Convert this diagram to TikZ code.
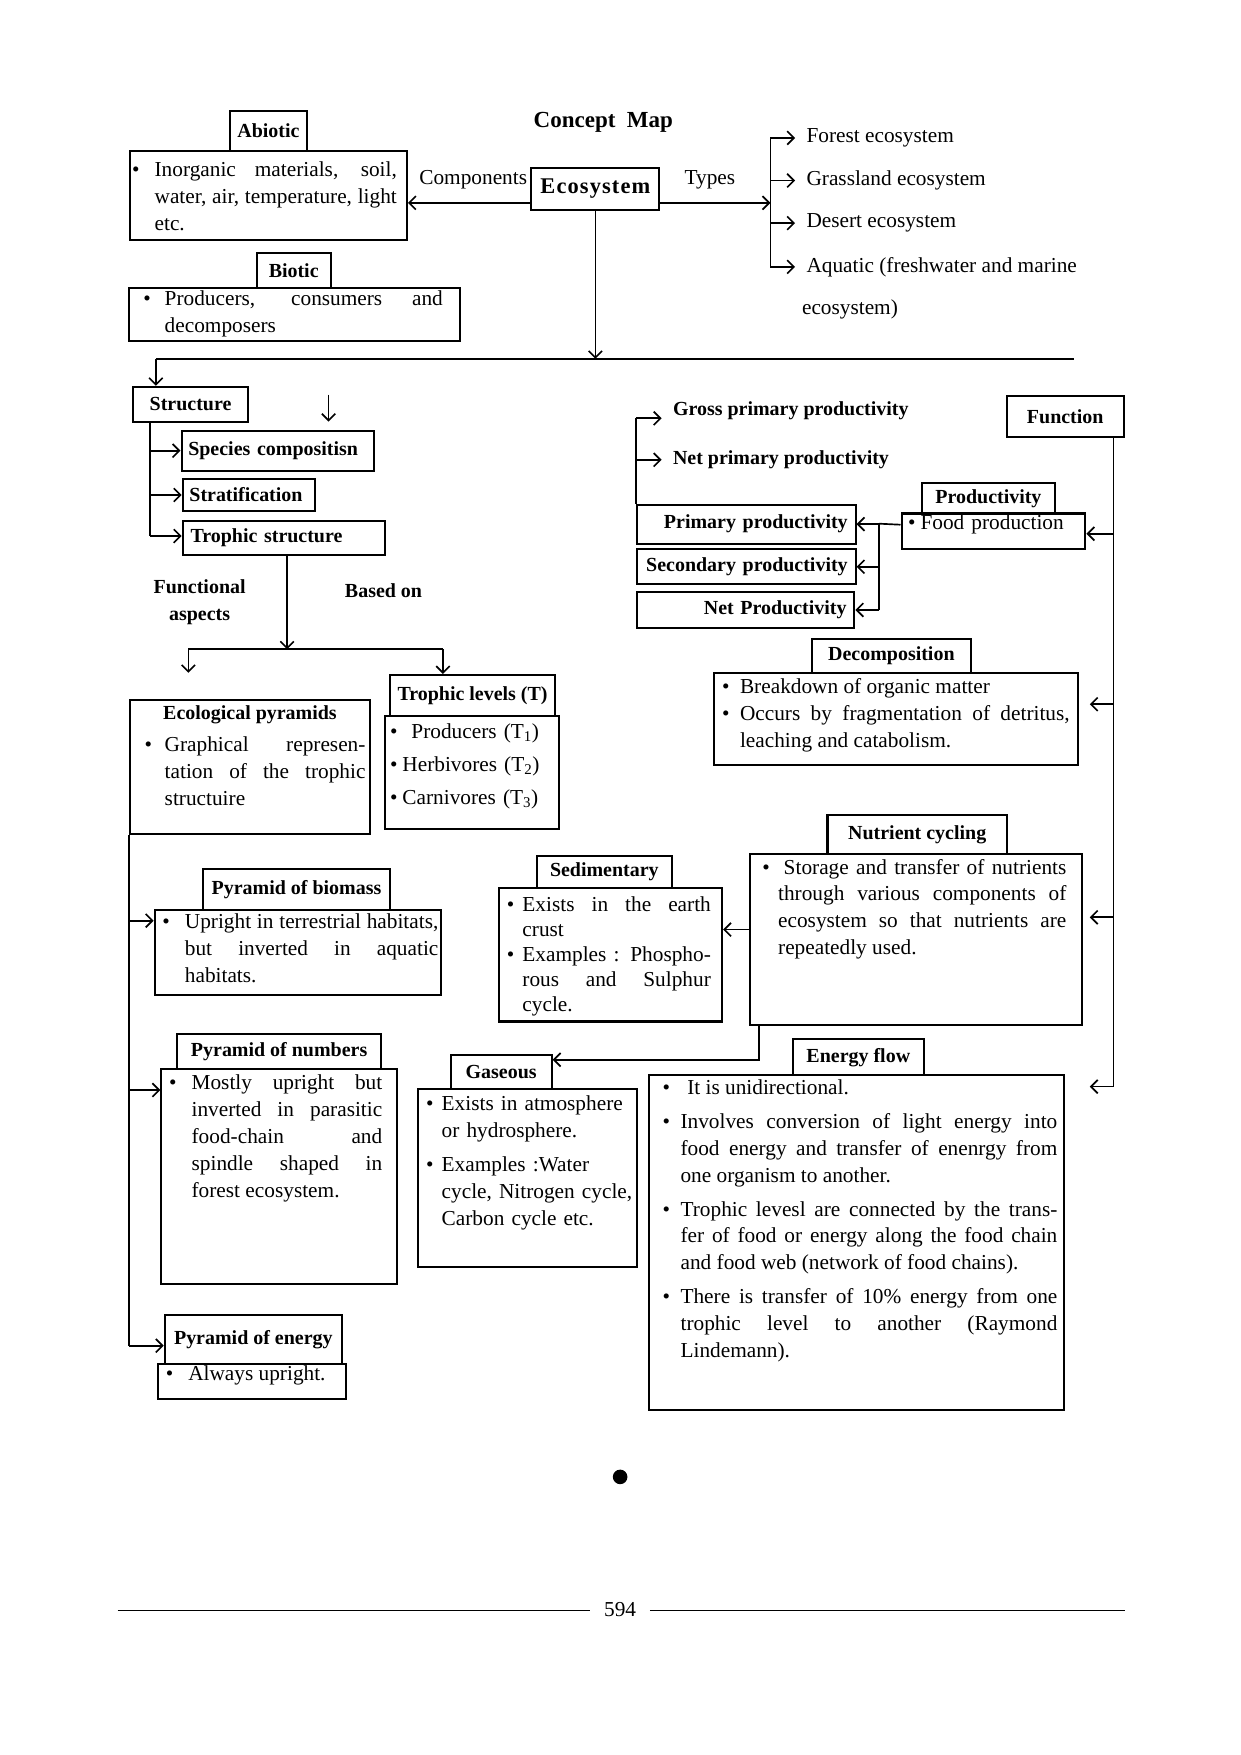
\documentclass[tikz,border=0pt]{standalone}
\usepackage{fontspec}
\setmainfont{Liberation Serif}
\newfontfamily\spacedfont[LetterSpace=5]{Liberation Serif}
\usepackage{tikz}
\usetikzlibrary{arrows.meta, positioning}
\tolerance=10000
\hbadness=10000
\newcommand{\bodyfont}{\fontsize{19}{24}\selectfont}
\newcommand{\headfont}{\fontsize{17.8}{22}\selectfont\bfseries}
\newcommand{\bitem}[2]{\noindent\hangindent=#1pt\hangafter=1\makebox[#1pt][l]{\textbullet}#2\par}
\tikzstyle{header} = [rectangle, draw=black, line width=1.8pt, font=\headfont, inner sep=0pt, anchor=north west]
\tikzstyle{mainbox} = [rectangle, draw=black, line width=1.8pt, font=\fontsize{20}{24}\spacedfont\bfseries, inner sep=0pt, anchor=north west]
\tikzstyle{bodybox} = [rectangle, draw=black, line width=1.8pt, font=\bodyfont, anchor=north west, align=justify, inner xsep=7pt, inner ysep=4pt, text height=13pt]
\tikzstyle{txt} = [font=\bodyfont, inner sep=0pt]
\tikzstyle{boldtxt} = [font=\headfont, inner sep=0pt, align=center]
\tikzstyle{link} = [line width=1.5pt]
\tikzstyle{arrow} = [line width=1.5pt, ->, >={Straight Barb[length=6pt,width=12pt]}]

\begin{document}
\begin{tikzpicture}[x=1pt, y=-1pt]

	\path [fill=white] (0,0) rectangle (1106,1565);
	\useasboundingbox (0,0) rectangle (1106,1565);

	\node (title) [font=\fontsize{20.5}{24}\selectfont\bfseries] at (538,109) {Concept\ \ Map};

	\node (abiotic_hd) [header, minimum width=69pt, minimum height=36pt] at (204,98) {Abiotic};
	\node (abiotic) [bodybox, inner xsep=2pt, inner ysep=9.5pt, text width=243pt, text depth=47pt] at (115,134) {\rightskip=7pt\bitem{20}{Inorganic materials, soil,\linebreak water, air, temperature, light\linebreak etc.}};

	\node (eco) [mainbox, minimum width=114pt, minimum height=37pt] at (473,149) {Ecosystem};
	\node (comp) [txt] at (422,160) {Components};
	\node (types) [txt] at (633,160) {Types};

	\node (forest) [txt, anchor=west, inner xsep=10pt] at (709,123) {Forest ecosystem};
	\node (grass) [txt, anchor=west, inner xsep=10pt] at (709,161) {Grassland ecosystem};
	\node (desert) [txt, anchor=west, inner xsep=10pt] at (709,199) {Desert ecosystem};
	\node (aquatic) [txt, anchor=north west, inner xsep=10pt, align=left] at (709,229) {Aquatic (freshwater and marine\\[14pt]\hspace*{-4pt}ecosystem)};

	\node (biotic_hd) [header, minimum width=66pt, minimum height=31pt] at (228,225) {Biotic};
	\node (biotic) [bodybox, inner xsep=13pt, inner ysep=2.5pt, text width=269pt, text depth=29pt] at (114,256) {\rightskip=2pt\bitem{19}{Producers, consumers and\linebreak decomposers}};

	\node (structure) [header, minimum width=102pt, minimum height=31pt] at (118,344) {Structure};
	\node (species) [header, text width=160pt, inner xsep=6pt, align=left, minimum height=36pt] at (161,383) {Species compositisn};
	\node (strat) [header, text width=106pt, inner xsep=6pt, align=left, minimum height=29pt] at (162,426) {Stratification};
	\node (trophic_str) [header, text width=166pt, inner xsep=7pt, align=left, minimum height=30pt] at (162,464) {Trophic structure};

	\node (func_lbl) [boldtxt] at (178,537) {Functional\\[2pt]aspects};
	\node (based_lbl) [boldtxt] at (342,527) {Based on};

	\node (eco_pyr) [bodybox, inner xsep=4pt, inner ysep=4.5pt, text width=206pt, text depth=98pt] at (115,623) {{\centering\headfont Ecological pyramids\par}\leftskip=9pt\setlength{\parskip}{5pt}\bitem{18}{Graphical represen-\linebreak tation of the trophic\linebreak structuire}};

	\node (troph_lv_hd) [header, minimum width=147pt, minimum height=37pt] at (347,601) {Trophic levels (T)};
	\node (troph_lv) [bodybox, align=left, inner xsep=5pt, inner ysep=6.5pt, text width=146pt, text depth=74pt] at (342,638) {\setlength{\parskip}{5.5pt}\bitem{19}{Producers (T\textsubscript{1})}\bitem{11}{Herbivores (T\textsubscript{2})}\bitem{11}{Carnivores (T\textsubscript{3})}};

	\node (biomass_hd) [header, minimum width=167pt, minimum height=37pt] at (180,774) {Pyramid of biomass};
	\node (biomass) [bodybox, inner xsep=2pt, inner ysep=3.5pt, text width=251pt, text depth=55pt] at (137,811) {\leftskip=5pt\bitem{20}{Upright in terrestrial habitats,\linebreak but inverted in aquatic\linebreak habitats.}};

	\node (numbers_hd) [header, minimum width=182pt, minimum height=31pt] at (157,921) {Pyramid of numbers};
	\node (numbers) [bodybox, inner xsep=7pt, inner ysep=5.5pt, text width=196pt, text depth=168pt] at (143,952) {\rightskip=6pt\bitem{20}{Mostly upright but\linebreak inverted in parasitic\linebreak food-chain and\linebreak spindle shaped in\linebreak forest ecosystem.}};

	\node (energy_hd) [header, minimum width=158pt, minimum height=43pt] at (146,1172) {Pyramid of energy};
	\node (energy) [bodybox, inner xsep=7pt, inner ysep=2.5pt, text width=154pt, text depth=14pt] at (140,1215) {\bitem{20}{Always upright.}};

	\node (gpp) [boldtxt, anchor=west, inner xsep=10pt] at (590,366) {Gross primary productivity};
	\node (npp) [boldtxt, anchor=west, inner xsep=10pt] at (590,410) {Net primary productivity};
	\node (function) [header, minimum width=104pt, minimum height=37pt] at (897,352) {Function};

	\node (primary) [header, text width=181pt, inner xsep=7pt, align=right, minimum height=35pt] at (567,449) {Primary productivity};
	\node (secondary) [header, text width=181pt, inner xsep=7pt, align=right, minimum height=31pt] at (567,489) {Secondary productivity};
	\node (net) [header, text width=180pt, inner xsep=7pt, align=right, minimum height=32pt] at (567,527) {Net Productivity};

	\node (prod_hd) [header, minimum width=119pt, minimum height=27pt] at (821,430) {Productivity};
	\node (prod) [bodybox, align=left, inner xsep=6pt, inner ysep=1.5pt, text width=152pt, text depth=16pt] at (803,457) {\bitem{11}{Food production}};

	\node (decomp_hd) [header, minimum width=142pt, minimum height=30pt] at (723,569) {Decomposition};
	\node (decomp) [bodybox, inner xsep=7pt, inner ysep=5.5pt, text width=310pt, text depth=58pt] at (636,599) {\bitem{16}{Breakdown of organic matter}\bitem{16}{Occurs by fragmentation of detritus,\linebreak leaching and catabolism.}};

	\node (nutrient_hd) [header, minimum width=160pt, minimum height=35pt] at (737,726) {Nutrient cycling};
	\node (nutrient) [bodybox, inner xsep=11pt, inner ysep=4.5pt, text width=274pt, text depth=130pt] at (668,761) {\rightskip=3pt\bitem{14}{\hspace{5pt}Storage and transfer of nutrients\linebreak through various components of\linebreak ecosystem so that nutrients are\linebreak repeatedly used.}};

	\node (sedi_hd) [header, minimum width=120pt, minimum height=29pt] at (478,762) {Sedimentary};
	\node (sedi) [bodybox, inner xsep=7pt, inner ysep=7.5pt, text width=185pt, text depth=91pt] at (444,791) {\fontsize{19}{22.3}\selectfont\rightskip=3pt\bitem{14}{Exists in the earth\linebreak crust}\bitem{14}{Examples : Phospho-\linebreak rous and Sulphur\linebreak cycle.}};

	\node (gas_hd) [header, minimum width=90pt, minimum height=30pt] at (401,940) {Gaseous};
	\node (gas) [bodybox, align=left, inner xsep=4pt, inner ysep=6.5pt, text width=187pt, text depth=133pt] at (372,970) {\hyphenpenalty=10000\leftskip=3pt\setlength{\parskip}{6pt}\bitem{14}{Exists in atmosphere\newline or hydrosphere.}\bitem{14}{Examples :Water\newline cycle, Nitrogen cycle,\newline Carbon cycle etc.}};

	\node (flow_hd) [header, minimum width=117pt, minimum height=32pt] at (706,926) {Energy flow};
	\node (flow) [bodybox, inner xsep=6pt, inner ysep=4.5pt, text width=358pt, text depth=276pt] at (578,958) {\leftskip=6pt\setlength{\parskip}{6pt}\bitem{16}{\hspace{6pt}It is unidirectional.}\bitem{16}{Involves conversion of light energy into\linebreak food energy and transfer of enenrgy from\linebreak one organism to another.}\bitem{16}{Trophic levesl are connected by the trans-\linebreak fer of food or energy along the food chain\linebreak and food web (network of food chains).}\bitem{16}{There is transfer of 10\% energy from one\linebreak trophic level to another (Raymond\linebreak Lindemann).}};

	\node (dot) [circle, fill=black, inner sep=0pt, minimum size=13pt] at (553,1317) {};
	\node (page_no) [txt, inner xsep=12pt] at (553,1435) {594};

	\coordinate (type_top) at (687,123);
	\coordinate (type_bot) at (687,238);
	\coordinate (bus_left) at (139,320);
	\coordinate (bus_right) at (958,320);
	\coordinate (struct_bot) at (134,478);
	\coordinate (stray_top) at (293,352);
	\coordinate (stray_end) at (293,376);
	\coordinate (fa_bus) at (256,579);
	\coordinate (fa_left) at (168,579);
	\coordinate (fa_right) at (395,579);
	\coordinate (fa_left_end) at (168,600);
	\coordinate (pyr_biomass) at (115,821);
	\coordinate (pyr_numbers) at (115,972);
	\coordinate (pyr_bot) at (115,1200);
	\coordinate (gross_top) at (567,373);
	\coordinate (prod_bus) at (784,467);
	\coordinate (fn_prod) at (993,476);
	\coordinate (fn_decomp) at (993,628);
	\coordinate (fn_nutr) at (993,818);
	\coordinate (fn_bot) at (993,969);
	\coordinate (gas_corner) at (677,945);
	\coordinate (rule_left) at (105,1436);
	\coordinate (rule_right) at (1003,1436);

	\draw [arrow] ([yshift=-12.5pt]eco.west) -- ([yshift=-12.5pt]eco.west -| abiotic.east);
	\draw [arrow] ([yshift=-12.5pt]eco.east) -- ([yshift=-12.5pt]eco.east -| type_top);
	\draw [link] (type_top) -- (type_bot);
	\draw [arrow] (type_top) -- (forest.west);
	\draw [arrow] (type_top |- grass.west) -- (grass.west);
	\draw [arrow] (type_top |- desert.west) -- (desert.west);
	\draw [arrow] (type_bot) -- (type_bot -| aquatic.west);

	\draw [arrow] (eco.south) -- (eco.south |- bus_left);
	\draw [link] (bus_left) -- (bus_right);
	\draw [arrow] (bus_left) -- (bus_left |- structure.north);
	\draw [arrow] (stray_top) -- (stray_end);
	\draw [link] (structure.south -| struct_bot) -- (struct_bot);
	\draw [arrow] (struct_bot |- species.west) -- (species.west);
	\draw [arrow] (struct_bot |- strat.west) -- (strat.west);
	\draw [arrow] (struct_bot) -- (struct_bot -| trophic_str.west);

	\draw [arrow] (fa_bus |- trophic_str.south) -- (fa_bus);
	\draw [link] (fa_left) -- (fa_right);
	\draw [arrow] (fa_left) -- (fa_left_end);
	\draw [arrow] (fa_right) -- (fa_right |- troph_lv_hd.north);

	\draw [link] (eco_pyr.south west) -- (pyr_bot);
	\draw [arrow] (pyr_biomass) -- (pyr_biomass -| biomass.west);
	\draw [arrow] (pyr_numbers) -- (pyr_numbers -| numbers.west);
	\draw [arrow] (pyr_bot) -- (pyr_bot -| energy_hd.west);

	\draw [link] (primary.north west) -- (gross_top);
	\draw [arrow] (gross_top) -- (gross_top -| gpp.west);
	\draw [arrow] (gross_top |- npp.west) -- (npp.west);

	\draw [link] ([yshift=6pt]prod.west) -- (prod_bus);
	\draw [link] (prod_bus) -- (prod_bus |- net.east);
	\draw [arrow] (prod_bus |- primary.east) -- (primary.east);
	\draw [arrow] (prod_bus |- secondary.east) -- (secondary.east);
	\draw [arrow] (prod_bus |- net.east) -- (net.east);

	\draw [link] (fn_bot |- function.south) -- (fn_bot);
	\draw [arrow] (fn_prod) -- (fn_prod -| prod.east);
	\draw [arrow, shorten >=10pt] (fn_decomp) -- (fn_decomp -| decomp.east);
	\draw [arrow, shorten >=6pt] (fn_nutr) -- (fn_nutr -| nutrient.east);
	\draw [arrow, shorten >=22pt] (fn_bot) -- (fn_bot -| flow.east);

	\draw [arrow] ([yshift=9pt]nutrient.west) -- ([yshift=9pt]nutrient.west -| sedi.east);
	\draw [arrow] (nutrient.south -| gas_corner) -- (gas_corner) -- (gas_corner -| gas_hd.east);

	\draw [link] (rule_left) -- (rule_left -| page_no.west);
	\draw [link] (page_no.east |- rule_right) -- (rule_right);

\end{tikzpicture}
\end{document}
